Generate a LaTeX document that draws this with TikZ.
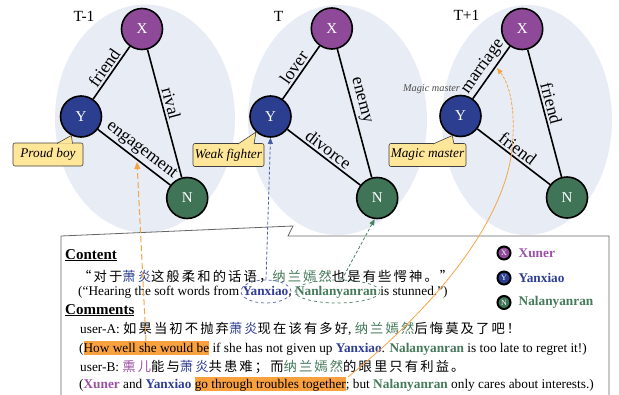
\documentclass[tikz,border=0pt]{standalone}
\usepackage{fontspec}
\setmainfont{Liberation Serif}
\newfontfamily\cjk[LetterSpace=16]{Noto Sans CJK SC}
\usetikzlibrary{arrows.meta,shapes.geometric,positioning}

\definecolor{bgell}{RGB}{232,236,245}
\definecolor{xpurple}{RGB}{142,74,152}
\definecolor{yblue}{RGB}{44,62,143}
\definecolor{ngreen}{RGB}{63,116,86}
\definecolor{cpurple}{RGB}{154,80,165}
\definecolor{cblue}{RGB}{47,62,148}
\definecolor{cgreen}{RGB}{68,121,90}
\definecolor{sayfill}{RGB}{255,230,153}
\definecolor{hlorange}{RGB}{249,160,63}
\definecolor{arrorange}{RGB}{245,164,70}
\definecolor{dashblue}{RGB}{72,92,172}
\definecolor{dashgreen}{RGB}{72,128,96}

\newcommand\xn[1]{\textcolor{cpurple}{\textbf{#1}}}
\newcommand\yx[1]{\textcolor{cblue}{\textbf{#1}}}
\newcommand\nl[1]{\textcolor{cgreen}{\textbf{#1}}}
\newcommand\hl[1]{{\setlength{\fboxsep}{0pt}\colorbox{hlorange}{\rule[-2.5pt]{0pt}{13.5pt}#1}}}

\tikzset{
  person/.style={circle,draw=black,line width=1.6pt,minimum size=41pt,inner sep=0pt,
    text=white,font=\fontsize{15}{15}\selectfont},
  tie/.style={line width=1.6pt},
  relation/.style={sloped,above,inner sep=2pt,font=\fontsize{17.5}{18}\selectfont},
  stamp/.style={anchor=base,inner sep=0pt,font=\fontsize{15.5}{16}\selectfont},
  saybox/.style={draw=black!75,fill=sayfill,rounded corners=2pt,line width=0.6pt,
    inner sep=1pt,minimum height=23pt,font=\fontsize{13.3}{15}\selectfont\itshape},
  saytip/.style={draw=black!75,fill=sayfill,line width=0.6pt},
  txt/.style={anchor=base west,inner sep=0pt,font=\fontsize{13.3}{16}\selectfont},
  ring/.style={ellipse,dashed,line width=0.7pt,inner sep=0pt,minimum height=23pt},
  dot/.style={circle,draw=black,line width=2pt,minimum size=13pt,inner sep=0pt,
    text=white,font=\fontsize{8}{8}\selectfont},
  keytext/.style={inner sep=1pt,font=\fontsize{13.3}{16}\selectfont\bfseries},
  tipA/.style={-{Triangle[length=7pt,width=6pt]}}
}

\begin{document}
\begin{tikzpicture}[x=1pt,y=-1pt]
\useasboundingbox (0,0) rectangle (619,394);

% three snapshots
\fill[bgell] (145,118.5) ellipse [x radius=90, y radius=114];
\fill[bgell] (337.5,120) ellipse [x radius=89.5, y radius=115];
\fill[bgell] (527,120) ellipse [x radius=85, y radius=115];

% content box
\draw[black!60,line width=0.8pt] (61,396) -- (61,236) -- (293,226) -- (288,236) -- (609,236) -- (609,396);

% T-1
\node[stamp] (tl) at (84,21) {T-1};
\node[person,fill=xpurple] (lx) at (142,29) {X};
\node[person,fill=yblue] (ly) at (81,116.5) {Y};
\node[person,fill=ngreen] (ln) at (187.2,198) {N};
\draw[tie] (ly) -- node[relation] {friend} (lx);
\draw[tie] (lx) -- node[relation,pos=0.44] {rival} (ln);
\draw[tie] (ly) -- node[relation,pos=0.52] {engagement} (ln);
\node[saybox,minimum width=70pt] (pb) at (48,154.5) {Proud boy};
\draw[saytip] ([xshift=9pt,yshift=-0.8pt]pb.north) -- (ly.-117) -- ([xshift=24.5pt,yshift=-0.8pt]pb.north);

% T
\node[stamp] (tm) at (278.5,21) {T};
\node[person,fill=xpurple] (mx) at (331.8,28.5) {X};
\node[person,fill=yblue] (my) at (270.5,116.5) {Y};
\node[person,fill=ngreen] (mn) at (377.2,198) {N};
\draw[tie] (my) -- node[relation] {lover} (mx);
\draw[tie] (mx) -- node[relation,pos=0.42] {enemy} (mn);
\draw[tie] (my) -- node[relation,pos=0.49] {divorce} (mn);
\node[saybox,minimum width=71pt] (wf) at (228.5,155) {Weak fighter};
\draw[saytip] ([xshift=9.5pt,yshift=-0.8pt]wf.north) -- (my.-133) -- ([xshift=25.5pt,yshift=-0.8pt]wf.north);

% T+1
\node[stamp] (tr) at (466.5,20.7) {T+1};
\node[person,fill=xpurple] (rx) at (522.2,29) {X};
\node[person,fill=yblue] (ry) at (460.5,116) {Y};
\node[person,fill=ngreen] (rn) at (567,197.5) {N};
\draw[tie] (ry) -- node[relation] {marriage} (rx);
\draw[tie] (rx) -- node[relation,pos=0.44] {friend} (rn);
\draw[tie] (ry) -- node[relation,pos=0.48] {friend} (rn);
\node[saybox,minimum width=77pt] (mm) at (427.5,155) {Magic master};
\draw[saytip] ([xshift=5.5pt,yshift=-0.8pt]mm.north) -- (ry.-113) -- ([xshift=26.5pt,yshift=-0.8pt]mm.north);
\node[anchor=base,inner sep=0pt,text=black!70,font=\fontsize{10.3}{11}\selectfont\itshape] (mmsmall) at (431.5,91) {Magic master};

% content and comments
\node[txt] (hc) at (65,259) {\fontsize{15}{16}\selectfont\textbf{\underline{Content}}};
\node[txt] (c1) at (78,281) {\cjk “对于\textcolor{cblue}{萧炎}这般柔和的话语，\textcolor{cgreen}{纳兰嫣然}也是有些愕神。”};
\node[txt] (c2) at (78,295) {(“Hearing the soft words from \yx{Yanxiao}, \nl{Nanlanyanran} is stunned.”)};
\node[ring,draw=dashblue,minimum width=50pt] (yxring) at (266,291.5) {};
\node[ring,draw=dashgreen,minimum width=85pt] (nlring) at (337.5,291.5) {};
\node[txt] (hm) at (65,314) {\fontsize{15}{16}\selectfont\textbf{\underline{Comments}}};
\node[txt] (ua) at (80,333) {user-A: {\cjk 如果当初不抛弃\textcolor{cblue}{萧炎}现在该有多好}, {\cjk \textcolor{cgreen}{纳兰嫣然}后悔莫及了吧！}};
\node[txt] (la) at (79,352) {(\hl{How well she would be} if she has not given up \yx{Yanxiao}. \nl{Nalanyanran} is too late to regret it!)};
\node[txt] (ub) at (80,371) {user-B: {\cjk \textcolor{cpurple}{熏儿}能与\textcolor{cblue}{萧炎}共患难；而\textcolor{cgreen}{纳兰嫣然}的眼里只有利益。}};
\node[txt] (lb) at (79,388) {(\xn{Xuner} and \yx{Yanxiao} \hl{go through troubles together}; but \nl{Nalanyanran} only cares about interests.)};

% legend
\node[dot,fill=xpurple] (kx) at (504,253) {X};
\node[dot,fill=yblue] (ky) at (504,278) {Y};
\node[dot,fill=ngreen] (kn) at (504,302.5) {N};
\node[keytext,text=cpurple,right=6pt of kx] (kxl) {Xuner};
\node[keytext,text=cblue,right=6pt of ky] (kyl) {Yanxiao};
\node[keytext,text=cgreen,right=6pt of kn] (knl) {Nalanyanran};

% links from text to graph
\coordinate (hla) at (146,341);
\coordinate (eng) at (137,162);
\coordinate (hlb) at (348,377);
\coordinate (bend) at (512,150);
\coordinate (mar) at (497,68);
\draw[arrorange,line width=1pt,dash pattern=on 6pt off 3pt,tipA] (hla) -- (eng);
\draw[dashblue,line width=0.8pt,dash pattern=on 3pt off 2pt,-{Triangle[length=6pt,width=5pt]}] (yxring.north) -- (my.south);
\draw[dashgreen,line width=0.8pt,dash pattern=on 3pt off 2pt,-{Triangle[length=6pt,width=5pt]}] (nlring.70) -- (mn.-97);
\draw[arrorange,line width=0.8pt] (hlb) .. controls (455,290) and (505,210) .. (bend);
\draw[arrorange,line width=0.8pt,dash pattern=on 3pt off 1.5pt,-{Triangle[length=6pt,width=5pt]}] (bend) .. controls (516,110) and (510,85) .. (mar);
\end{tikzpicture}
\end{document}
